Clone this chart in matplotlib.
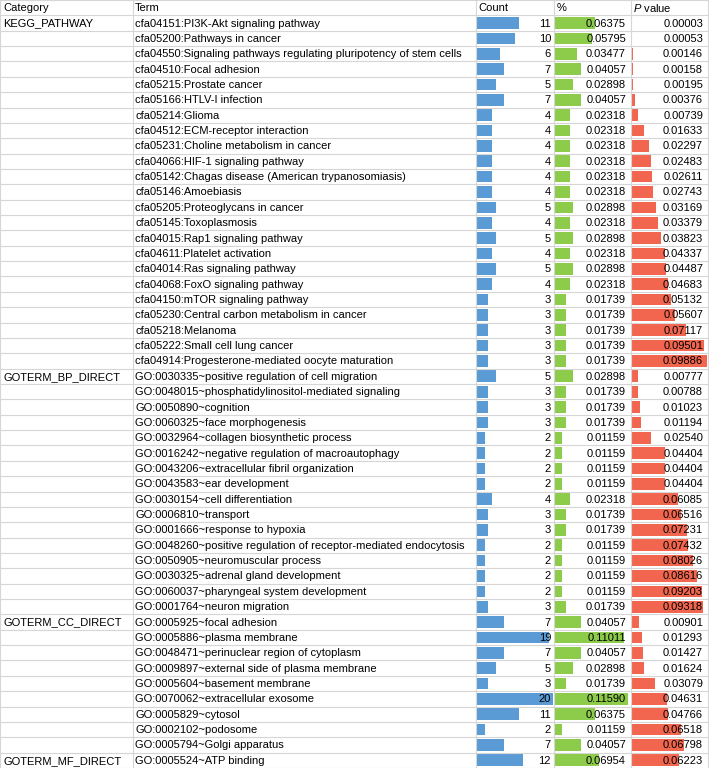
import matplotlib
matplotlib.use("Agg")
import matplotlib.pyplot as plt
import numpy as np

plt.rcParams['font.family'] = ['Liberation Sans', 'DejaVu Sans']
plt.rcParams['mathtext.fontset'] = 'custom'
plt.rcParams['mathtext.it'] = 'Liberation Sans:italic'
plt.rcParams['mathtext.rm'] = 'Liberation Sans'

categories = ["KEGG_PATHWAY"] * 23 + ["GOTERM_BP_DIRECT"] * 16 + ["GOTERM_CC_DIRECT"] * 9 + ["GOTERM_MF_DIRECT"]

terms = [
    "cfa04151:PI3K-Akt signaling pathway",
    "cfa05200:Pathways in cancer",
    "cfa04550:Signaling pathways regulating pluripotency of stem cells",
    "cfa04510:Focal adhesion",
    "cfa05215:Prostate cancer",
    "cfa05166:HTLV-I infection",
    "cfa05214:Glioma",
    "cfa04512:ECM-receptor interaction",
    "cfa05231:Choline metabolism in cancer",
    "cfa04066:HIF-1 signaling pathway",
    "cfa05142:Chagas disease (American trypanosomiasis)",
    "cfa05146:Amoebiasis",
    "cfa05205:Proteoglycans in cancer",
    "cfa05145:Toxoplasmosis",
    "cfa04015:Rap1 signaling pathway",
    "cfa04611:Platelet activation",
    "cfa04014:Ras signaling pathway",
    "cfa04068:FoxO signaling pathway",
    "cfa04150:mTOR signaling pathway",
    "cfa05230:Central carbon metabolism in cancer",
    "cfa05218:Melanoma",
    "cfa05222:Small cell lung cancer",
    "cfa04914:Progesterone-mediated oocyte maturation",
    "GO:0030335~positive regulation of cell migration",
    "GO:0048015~phosphatidylinositol-mediated signaling",
    "GO:0050890~cognition",
    "GO:0060325~face morphogenesis",
    "GO:0032964~collagen biosynthetic process",
    "GO:0016242~negative regulation of macroautophagy",
    "GO:0043206~extracellular fibril organization",
    "GO:0043583~ear development",
    "GO:0030154~cell differentiation",
    "GO:0006810~transport",
    "GO:0001666~response to hypoxia",
    "GO:0048260~positive regulation of receptor-mediated endocytosis",
    "GO:0050905~neuromuscular process",
    "GO:0030325~adrenal gland development",
    "GO:0060037~pharyngeal system development",
    "GO:0001764~neuron migration",
    "GO:0005925~focal adhesion",
    "GO:0005886~plasma membrane",
    "GO:0048471~perinuclear region of cytoplasm",
    "GO:0009897~external side of plasma membrane",
    "GO:0005604~basement membrane",
    "GO:0070062~extracellular exosome",
    "GO:0005829~cytosol",
    "GO:0002102~podosome",
    "GO:0005794~Golgi apparatus",
    "GO:0005524~ATP binding",
]

counts = [11, 10, 6, 7, 5, 7, 4, 4, 4, 4, 4, 4, 5, 4, 5, 4, 5, 4, 3, 3, 3, 3, 3,
          5, 3, 3, 3, 2, 2, 2, 2, 4, 3, 3, 2, 2, 2, 2, 3,
          7, 19, 7, 5, 3, 20, 11, 2, 7,
          12]

percents = [0.06375, 0.05795, 0.03477, 0.04057, 0.02898, 0.04057, 0.02318, 0.02318,
            0.02318, 0.02318, 0.02318, 0.02318, 0.02898, 0.02318, 0.02898, 0.02318,
            0.02898, 0.02318, 0.01739, 0.01739, 0.01739, 0.01739, 0.01739,
            0.02898, 0.01739, 0.01739, 0.01739, 0.01159, 0.01159, 0.01159, 0.01159,
            0.02318, 0.01739, 0.01739, 0.01159, 0.01159, 0.01159, 0.01159, 0.01739,
            0.04057, 0.11011, 0.04057, 0.02898, 0.01739, 0.11590, 0.06375, 0.01159, 0.04057,
            0.06954]

pvalues = [0.00003, 0.00053, 0.00146, 0.00158, 0.00195, 0.00376, 0.00739, 0.01633,
           0.02297, 0.02483, 0.02611, 0.02743, 0.03169, 0.03379, 0.03823, 0.04337,
           0.04487, 0.04683, 0.05132, 0.05607, 0.07117, 0.09501, 0.09886,
           0.00777, 0.00788, 0.01023, 0.01194, 0.02540, 0.04404, 0.04404, 0.04404,
           0.06085, 0.06516, 0.07231, 0.07432, 0.08026, 0.08616, 0.09203, 0.09318,
           0.00901, 0.01293, 0.01427, 0.01624, 0.03079, 0.04631, 0.04766, 0.06518, 0.06798,
           0.06223]

headers = ["Category", "Term", "Count", "%", "$\\mathit{P}$ value"]

W, H = 709, 768
fig = plt.figure(figsize=(W / 100, H / 100), dpi=100)
nrows = len(terms) + 1

# column boundaries (pixels)
col_edges = [0, 133, 476, 553.5, 630.5, 708]
BLUE = "#5B9BD5"
GREEN = "#8DCB4B"
RED = "#F2664F"

rows = np.arange(1, nrows) + 0.5

def bar_axes(x0, width, vmax, values, color):
    a = fig.add_axes([x0 / W, 0, width / W, 1])
    a.set_xlim(0, vmax)
    a.set_ylim(nrows, 0)
    a.barh(rows, values, height=0.76, color=color, left=0, linewidth=0)
    a.axis("off")
    a.set_zorder(1)
    return a

bar_axes(477, 76, max(counts), counts, BLUE)
bar_axes(555, 73, max(percents), percents, GREEN)
bar_axes(632, 75, max(pvalues), pvalues, RED)

ax = fig.add_axes([0, 0, 1, 1])
ax.set_xlim(0, W)
ax.set_ylim(nrows, 0)
ax.axis("off")
ax.set_zorder(2)
ax.patch.set_visible(False)

grid = "#D6D6D6"
for r in range(nrows + 1):
    ax.axhline(r, color=grid, lw=0.8, zorder=1)
for x in col_edges:
    ax.axvline(x, color=grid, lw=0.8, zorder=1)

fs = 8.0
ty = 0.53
ax.text(3, ty, headers[0], fontsize=fs, va="center", ha="left")
ax.text(135, ty, headers[1], fontsize=fs, va="center", ha="left")
ax.text(478, ty, headers[2], fontsize=fs, va="center", ha="left")
ax.text(557, ty, headers[3], fontsize=fs, va="center", ha="left")
ax.text(633, ty, headers[4], fontsize=fs, va="center", ha="left")

prev = None
for i in range(len(terms)):
    y = i + 1 + ty
    if categories[i] != prev:
        ax.text(3, y, categories[i], fontsize=fs, va="center", ha="left")
        prev = categories[i]
    ax.text(135, y, terms[i], fontsize=fs, va="center", ha="left")
    ax.text(551, y, str(counts[i]), fontsize=fs, va="center", ha="right")
    ax.text(626, y, f"{percents[i]:.5f}", fontsize=fs, va="center", ha="right")
    ax.text(703, y, f"{pvalues[i]:.5f}", fontsize=fs, va="center", ha="right")

fig.savefig("out.png", dpi=100)
